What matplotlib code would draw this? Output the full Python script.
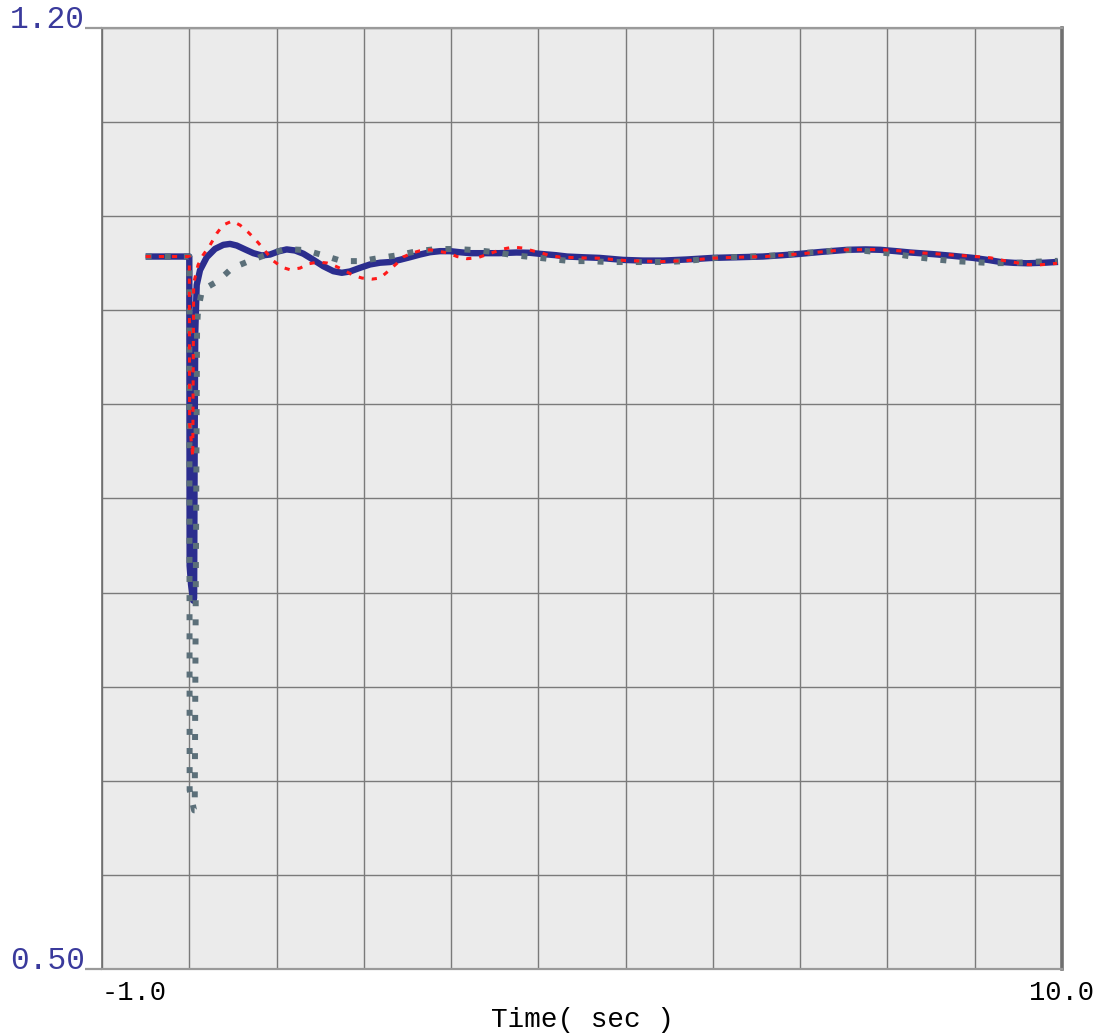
import matplotlib
matplotlib.use("Agg")
import matplotlib.pyplot as plt
import numpy as np

# ---- data -------------------------------------------------------------
blue_t = [-0.50, 0.000, 0.004, 0.020, 0.045, 0.055, 0.062, 0.068, 0.085, 0.123,
          0.200, 0.295, 0.390, 0.467, 0.543, 0.639, 0.734, 0.830, 0.925, 1.020,
          1.116, 1.212, 1.307, 1.421, 1.536, 1.651, 1.747, 1.842, 1.956, 2.071,
          2.186, 2.300, 2.415, 2.530, 2.644, 2.758, 2.873, 2.988, 3.102, 3.217,
          3.331, 3.550, 3.750, 3.900, 4.020, 4.200, 4.330, 4.500, 4.700, 4.970,
          5.200, 5.430, 5.700, 6.000, 6.300, 6.570, 6.800, 7.000, 7.250, 7.540,
          7.750, 7.920, 8.100, 8.260, 8.520, 8.750, 8.980, 9.150, 9.290, 9.450,
          9.600, 9.800, 9.955]
blue_v = [1.030, 1.030, 0.800, 0.786, 0.774, 0.776, 0.900, 0.973, 1.0088, 1.0199,
          1.0295, 1.0357, 1.0387, 1.0394, 1.0382, 1.0353, 1.0325, 1.0308, 1.0315, 1.0338,
          1.0353, 1.0345, 1.0321, 1.0276, 1.0228, 1.0191, 1.0179, 1.0189, 1.0216, 1.0241,
          1.0254, 1.0259, 1.0276, 1.0295, 1.0315, 1.0332, 1.0340, 1.0340, 1.0332, 1.0325,
          1.0325, 1.0325, 1.0330, 1.0328, 1.0320, 1.0310, 1.0300, 1.0295, 1.0290, 1.0275,
          1.0270, 1.0270, 1.0278, 1.0290, 1.0295, 1.0300, 1.0310, 1.0320, 1.0335, 1.0350,
          1.0353, 1.0350, 1.0340, 1.0330, 1.0318, 1.0305, 1.0290, 1.0275, 1.0260, 1.0253,
          1.0250, 1.0254, 1.0260]

red_t = [-0.50, 0.000, 0.004, 0.040, 0.045, 0.050, 0.100, 0.157, 0.238, 0.318,
         0.387, 0.490, 0.581, 0.673, 0.753, 0.833, 0.959, 1.063, 1.154, 1.269,
         1.361, 1.475, 1.578, 1.670, 1.770, 1.876, 1.979, 2.094, 2.186, 2.277,
         2.380, 2.449, 2.552, 2.644, 2.758, 2.850, 2.965, 3.068, 3.182, 3.297,
         3.389, 3.500, 3.595, 3.710, 3.824, 3.939, 4.042, 4.133, 4.248, 4.477,
         4.684, 5.000, 5.400, 5.700, 6.000, 6.300, 6.600, 7.000, 7.250, 7.500,
         7.900, 8.201, 8.408, 8.522, 8.751, 8.969, 9.187, 9.290, 9.496, 9.611,
         9.740, 9.840, 9.943]
red_v = [1.030, 1.030, 0.905, 0.881, 0.950, 1.010, 1.0237, 1.031, 1.0385, 1.0475,
         1.0534, 1.0564, 1.0534, 1.0482, 1.043, 1.037, 1.027, 1.022, 1.0202, 1.0214,
         1.0245, 1.0259, 1.0252, 1.023, 1.020, 1.016, 1.0140, 1.0132, 1.0140, 1.0190,
         1.0250, 1.0296, 1.0326, 1.0343, 1.0350, 1.0340, 1.0326, 1.0300, 1.0284, 1.0290,
         1.0310, 1.0335, 1.0356, 1.0370, 1.0363, 1.0342, 1.0326, 1.0306, 1.0296, 1.0290,
         1.0288, 1.0270, 1.0262, 1.0270, 1.0288, 1.0295, 1.0300, 1.0320, 1.0335, 1.0350,
         1.0352, 1.0340, 1.0326, 1.0322, 1.0311, 1.0302, 1.0290, 1.0275, 1.0252, 1.0240,
         1.0238, 1.0243, 1.0250]

gray_t = [-0.50, 0.000, 0.004, 0.055, 0.062, 0.089, 0.100, 0.146, 0.329, 0.490,
          0.684, 0.902, 1.108, 1.326, 1.532, 1.750, 1.968, 2.174, 2.392, 2.609,
          2.839, 3.056, 3.274, 3.492, 3.710, 3.927, 4.156, 4.374, 4.580, 4.810,
          5.027, 5.245, 5.463, 5.680, 5.898, 6.116, 6.345, 6.563, 6.792, 6.998,
          7.216, 7.434, 7.651, 7.880, 8.098, 8.316, 8.534, 8.751, 8.981, 9.198,
          9.416, 9.634, 9.851, 9.950]
gray_v = [1.030, 1.030, 0.633, 0.618, 0.618, 0.977, 0.990, 1.005, 1.0118, 1.0214,
          1.0266, 1.0318, 1.0356, 1.0348, 1.031, 1.0266, 1.0266, 1.0289, 1.031, 1.034,
          1.0356, 1.0356, 1.0348, 1.0333, 1.031, 1.0296, 1.028, 1.0266, 1.0266, 1.0259,
          1.0259, 1.0259, 1.0259, 1.0266, 1.028, 1.0296, 1.0296, 1.0304, 1.031, 1.0326,
          1.0333, 1.0348, 1.0348, 1.0333, 1.0318, 1.0296, 1.028, 1.0266, 1.0259, 1.0251,
          1.0251, 1.0259, 1.0266, 1.0268]

x_min, x_max = -1.0, 10.0
y_min, y_max = 0.50, 1.20
x_tick_labels = ["-1.0", "10.0"]
y_tick_labels = ["0.50", "1.20"]
x_label = "Time( sec )"

# ---- figure -----------------------------------------------------------
mono = ["Liberation Mono", "DejaVu Sans Mono"]
fig = plt.figure(figsize=(11.03, 10.34), dpi=100)
ax = fig.add_axes([0.0925, 0.0629, 0.8703, 0.9100])
ax.set_facecolor("#ebebeb")
ax.set_xlim(x_min, x_max)
ax.set_ylim(y_min, y_max)

# grid
ax.set_xticks([x_min, x_max])
ax.set_xticks(np.arange(0, 10, 1.0), minor=True)
ax.set_yticks([y_min, y_max])
ax.set_yticks(np.linspace(y_min, y_max, 11)[1:-1], minor=True)
ax.grid(True, which="both", color="#7a7a7a", linewidth=1.0)
ax.set_axisbelow(True)

# curves
ax.plot(blue_t, blue_v, color="#2b2d8e", linewidth=4.6, solid_joinstyle="round",
        solid_capstyle="butt", zorder=3)
ax.plot(gray_t, gray_v, color="#5b6f79", linewidth=4.3, linestyle=(0, (1, 2.2)),
        dash_capstyle="butt", zorder=4)
ax.plot(red_t, red_v, color="#ff1a1a", linewidth=2.2, linestyle=(0, (1.7, 2.6)),
        dash_capstyle="butt", zorder=5)

# spines
for side in ("top", "bottom"):
    ax.spines[side].set_color("#9a9a9a")
    ax.spines[side].set_linewidth(1.6)
ax.spines["left"].set_color("#6e6e6e")
ax.spines["left"].set_linewidth(1.2)
ax.spines["right"].set_color("#707070")
ax.spines["right"].set_linewidth(2.6)

# ticks and labels
ax.tick_params(axis="x", which="both", length=0, pad=8)
ax.tick_params(axis="y", which="major", length=12.5, width=1.6, color="#9a9a9a", pad=0)
ax.tick_params(axis="y", which="minor", length=0)
ax.set_xticklabels(x_tick_labels, fontfamily=mono, fontsize=19.5, color="black")
ax.set_yticklabels(y_tick_labels, fontfamily=mono, fontsize=22.5, color="#3a3a9c")
xl = ax.get_xticklabels()
xl[0].set_ha("left")
for lab in ax.get_yticklabels():
    lab.set_va("baseline")

fig.text(0.5277, 1 - 1020 / 1034, x_label, fontfamily=mono, fontsize=20,
         color="black", ha="center", va="center")

fig.savefig("out.png", dpi=100)
